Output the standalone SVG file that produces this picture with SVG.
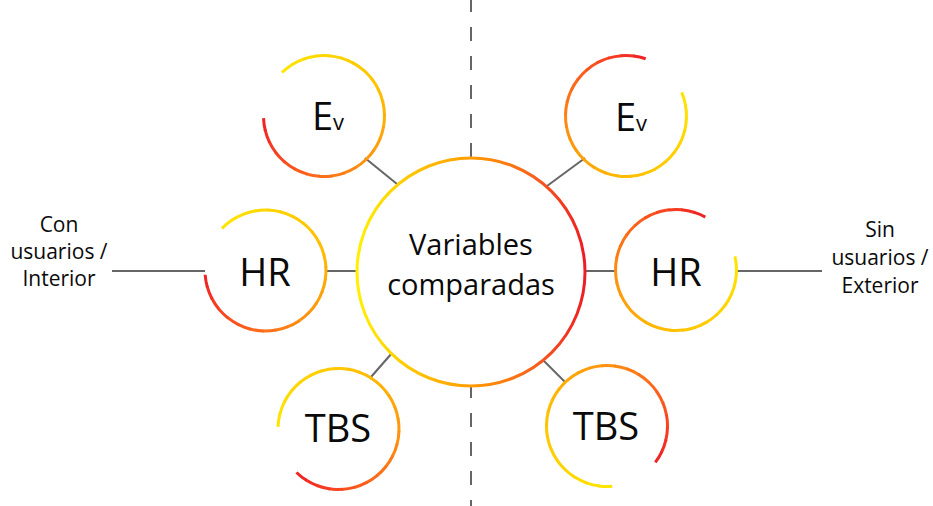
<svg xmlns="http://www.w3.org/2000/svg" width="933" height="506" viewBox="0 0 933 506">
<style>
  .seg { fill: none; stroke-width: 3; }
  .conn line { stroke: #666; stroke-width: 2; }
  .conn .dash { stroke-dasharray: 14 15; }
  .t { font-family: "Open Sans", "Liberation Sans", sans-serif; fill: #0a0a0a; text-anchor: middle; }
  .big { font-size: 38px; }
  .mid { font-size: 29px; }
  .small { font-size: 21px; }
</style>
<defs>
  <linearGradient id="cg" gradientUnits="userSpaceOnUse" x1="357" y1="0" x2="585" y2="0">
    <stop offset="0" stop-color="#FFF000"/>
    <stop offset="0.25" stop-color="#FFC400"/>
    <stop offset="0.5" stop-color="#FF9C00"/>
    <stop offset="0.78" stop-color="#F8601C"/>
    <stop offset="1" stop-color="#EE1C24"/>
  </linearGradient>
  <g id="arc">
    <circle class="seg" r="60.5" pathLength="360" stroke-dasharray="13 400" stroke-dashoffset="0" stroke="#FFE400"/>
    <circle class="seg" r="60.5" pathLength="360" stroke-dasharray="13 400" stroke-dashoffset="-12" stroke="#FFE000"/>
    <circle class="seg" r="60.5" pathLength="360" stroke-dasharray="13 400" stroke-dashoffset="-24" stroke="#FFDC00"/>
    <circle class="seg" r="60.5" pathLength="360" stroke-dasharray="13 400" stroke-dashoffset="-36" stroke="#FFD700"/>
    <circle class="seg" r="60.5" pathLength="360" stroke-dasharray="13 400" stroke-dashoffset="-48" stroke="#FFD300"/>
    <circle class="seg" r="60.5" pathLength="360" stroke-dasharray="13 400" stroke-dashoffset="-60" stroke="#FFCF00"/>
    <circle class="seg" r="60.5" pathLength="360" stroke-dasharray="13 400" stroke-dashoffset="-72" stroke="#FFCB00"/>
    <circle class="seg" r="60.5" pathLength="360" stroke-dasharray="13 400" stroke-dashoffset="-84" stroke="#FFC700"/>
    <circle class="seg" r="60.5" pathLength="360" stroke-dasharray="13 400" stroke-dashoffset="-96" stroke="#FFC200"/>
    <circle class="seg" r="60.5" pathLength="360" stroke-dasharray="13 400" stroke-dashoffset="-108" stroke="#FFBD01"/>
    <circle class="seg" r="60.5" pathLength="360" stroke-dasharray="13 400" stroke-dashoffset="-120" stroke="#FFB603"/>
    <circle class="seg" r="60.5" pathLength="360" stroke-dasharray="13 400" stroke-dashoffset="-132" stroke="#FFAE06"/>
    <circle class="seg" r="60.5" pathLength="360" stroke-dasharray="13 400" stroke-dashoffset="-144" stroke="#FFA708"/>
    <circle class="seg" r="60.5" pathLength="360" stroke-dasharray="13 400" stroke-dashoffset="-156" stroke="#FFA00B"/>
    <circle class="seg" r="60.5" pathLength="360" stroke-dasharray="13 400" stroke-dashoffset="-168" stroke="#FF980D"/>
    <circle class="seg" r="60.5" pathLength="360" stroke-dasharray="13 400" stroke-dashoffset="-180" stroke="#FF9110"/>
    <circle class="seg" r="60.5" pathLength="360" stroke-dasharray="13 400" stroke-dashoffset="-192" stroke="#FE8712"/>
    <circle class="seg" r="60.5" pathLength="360" stroke-dasharray="13 400" stroke-dashoffset="-204" stroke="#FE7C15"/>
    <circle class="seg" r="60.5" pathLength="360" stroke-dasharray="13 400" stroke-dashoffset="-216" stroke="#FD7218"/>
    <circle class="seg" r="60.5" pathLength="360" stroke-dasharray="13 400" stroke-dashoffset="-228" stroke="#FD681A"/>
    <circle class="seg" r="60.5" pathLength="360" stroke-dasharray="13 400" stroke-dashoffset="-240" stroke="#FC5D1D"/>
    <circle class="seg" r="60.5" pathLength="360" stroke-dasharray="13 400" stroke-dashoffset="-252" stroke="#FA521F"/>
    <circle class="seg" r="60.5" pathLength="360" stroke-dasharray="13 400" stroke-dashoffset="-264" stroke="#F74620"/>
    <circle class="seg" r="60.5" pathLength="360" stroke-dasharray="13 400" stroke-dashoffset="-276" stroke="#F53B21"/>
    <circle class="seg" r="60.5" pathLength="360" stroke-dasharray="13 400" stroke-dashoffset="-288" stroke="#F22F22"/>
    <circle class="seg" r="60.5" pathLength="360" stroke-dasharray="12 400" stroke-dashoffset="-300" stroke="#EF2423"/>
  </g>
</defs>

<g id="connectors" class="conn">
  <line class="dash" x1="471" y1="157" x2="471" y2="0"/>
  <line class="dash" x1="471" y1="384" x2="471" y2="506"/>
  <line x1="365" y1="158" x2="397" y2="184"/>
  <line x1="585" y1="158" x2="547" y2="186"/>
  <line x1="326" y1="271" x2="357" y2="271"/>
  <line x1="616" y1="271" x2="585" y2="271"/>
  <line x1="392" y1="353" x2="371" y2="377"/>
  <line x1="543" y1="360" x2="566" y2="383"/>
  <line x1="112" y1="271" x2="205" y2="271"/>
  <line x1="736" y1="271" x2="822" y2="271"/>
</g>

<g id="center">
  <circle cx="471" cy="272" r="114" fill="#fff" stroke="url(#cg)" stroke-width="3"/>
  <text class="t mid" x="471" y="255">Variables</text>
  <text class="t mid" x="471" y="295">comparadas</text>
</g>

<g id="ev-left">
  <use href="#arc" transform="translate(324,116) rotate(226)"/>
  <text class="t big" x="328" y="130">E<tspan font-size="22">v</tspan></text>
</g>
<g id="ev-right">
  <use href="#arc" transform="translate(626,116) rotate(337)"/>
  <text class="t big" x="631" y="131">E<tspan font-size="22">v</tspan></text>
</g>
<g id="hr-left">
  <use href="#arc" transform="translate(265.5,270.5) rotate(224)"/>
  <text class="t big" x="265" y="286">HR</text>
</g>
<g id="hr-right">
  <use href="#arc" transform="translate(676,270) rotate(347)"/>
  <text class="t big" x="676" y="286">HR</text>
</g>
<g id="tbs-left">
  <use href="#arc" transform="translate(338.5,429) rotate(182)"/>
  <text class="t big" x="338" y="442">TBS</text>
</g>
<g id="tbs-right">
  <use href="#arc" transform="translate(607,426) rotate(85)"/>
  <text class="t big" x="606" y="440">TBS</text>
</g>

<g id="label-left">
  <text class="t small" x="59" y="232">Con</text>
  <text class="t small" x="59" y="259">usuarios /</text>
  <text class="t small" x="59" y="286">Interior</text>
</g>
<g id="label-right">
  <text class="t small" x="880" y="237">Sin</text>
  <text class="t small" x="880" y="265">usuarios /</text>
  <text class="t small" x="880" y="293">Exterior</text>
</g>
</svg>
